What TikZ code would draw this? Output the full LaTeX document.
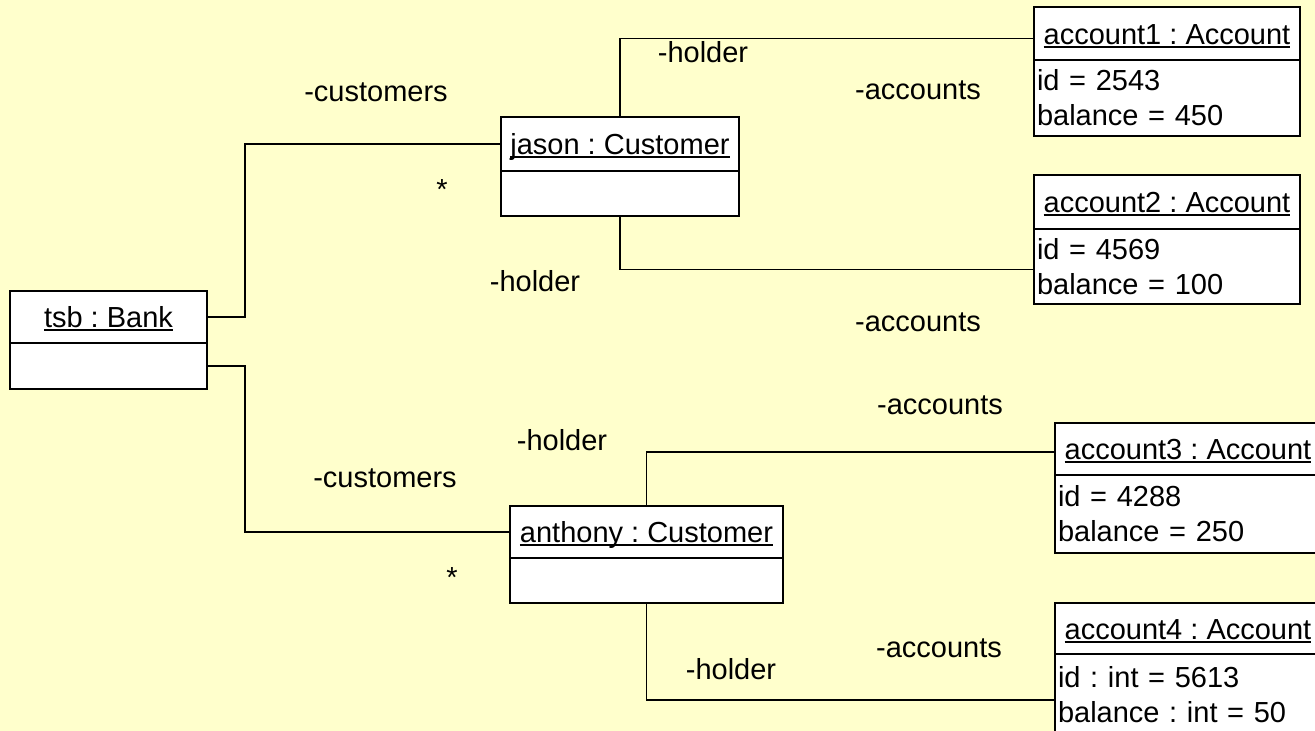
\documentclass[tikz,border=0pt]{standalone}
\usepackage{fontspec}
\setmainfont{Liberation Sans}
\usetikzlibrary{positioning}

\definecolor{notebg}{HTML}{FFFFCC}
\frenchspacing

% underlined object name with a fixed rule below the baseline
\newcommand{\objline}[1]{\setbox0\hbox{#1}\rlap{\rule[-3.5pt]{\wd0}{1.6pt}}\box0}

\begin{document}
\begin{tikzpicture}[x=1pt, y=-1pt,
    font=\fontsize{29}{35}\selectfont,
    objhead/.style={draw, line width=2.7pt, fill=white, inner sep=0pt, outer sep=0pt,
        text height=21pt, text depth=0pt, anchor=north west},
    objbody/.style={draw, line width=2.7pt, fill=white, inner sep=0pt, outer sep=0pt},
    slots/.style={align=left, inner xsep=3pt, text width=260pt},
    link/.style={line width=1.3pt}]

    % Background
    \clip (0,0) rectangle (1315,731);
    \fill[notebg] (0,0) rectangle (1315,731);

    % Bank
    \node[objhead, minimum width=197pt, minimum height=52pt] (tsbH) at (10,291) {\objline{tsb : Bank}};
    \node[objbody, minimum width=197pt, minimum height=46pt, below=0pt of tsbH] (tsbB) {};

    % Customers
    \node[objhead, minimum width=238pt, minimum height=54pt] (jasonH) at (501,117) {\objline{jason : Customer}};
    \node[objbody, minimum width=238pt, minimum height=45pt, below=0pt of jasonH] (jasonB) {};
    \node[objhead, minimum width=273pt, minimum height=52pt] (anthonyH) at (510,506) {\objline{anthony : Customer}};
    \node[objbody, minimum width=273pt, minimum height=45pt, below=0pt of anthonyH] (anthonyB) {};

    % Accounts
    \node[objhead, minimum width=266pt, minimum height=53pt] (acc1H) at (1034,7) {\objline{account1 : Account}};
    \node[objbody, slots, minimum height=76pt, below=0pt of acc1H] (acc1B) {id = 2543\\balance = 450};
    \node[objhead, minimum width=266pt, minimum height=54pt] (acc2H) at (1034,175) {\objline{account2 : Account}};
    \node[objbody, slots, minimum height=75pt, below=0pt of acc2H] (acc2B) {id = 4569\\balance = 100};
    \node[objhead, minimum width=266pt, minimum height=52pt] (acc3H) at (1055,423) {\objline{account3 : Account}};
    \node[objbody, slots, minimum height=78pt, below=0pt of acc3H] (acc3B) {id = 4288\\balance = 250};
    \node[objhead, minimum width=266pt, minimum height=51pt] (acc4H) at (1055,603) {\objline{account4 : Account}};
    \node[objbody, slots, minimum height=82pt, below=0pt of acc4H] (acc4B) {id : int = 5613\\balance : int = 50};

    % Links
    \draw[link] (tsbH.east) -- ++(38,0) |- (jasonH.west);
    \draw[link] (tsbB.east) -- ++(38,0) |- (anthonyH.west);
    \draw[link] (jasonH.north) |- ([yshift=-5pt]acc1H.west);
    \draw[link] (jasonB.south) |- ([yshift=-3pt]acc2B.west);
    \draw[link] (anthonyH.north) |- ([yshift=-3pt]acc3H.west);
    \draw[link] (anthonyB.south) |- ([yshift=-5pt]acc4B.west);

    % Role names and multiplicities
    \node (custJ) at (376,92) {-customers};
    \node (multJ) at (442,190) {*};
    \node (holdA1) at (703,52) {-holder};
    \node (accsA1) at (918,90) {-accounts};
    \node (holdA2) at (535,281) {-holder};
    \node (accsA2) at (918,322) {-accounts};
    \node (accsA3) at (940,405) {-accounts};
    \node (holdA3) at (562,440) {-holder};
    \node (custA) at (385,478) {-customers};
    \node (multA) at (452,578) {*};
    \node (accsA4) at (939,648) {-accounts};
    \node (holdA4) at (731,669) {-holder};
\end{tikzpicture}
\end{document}
